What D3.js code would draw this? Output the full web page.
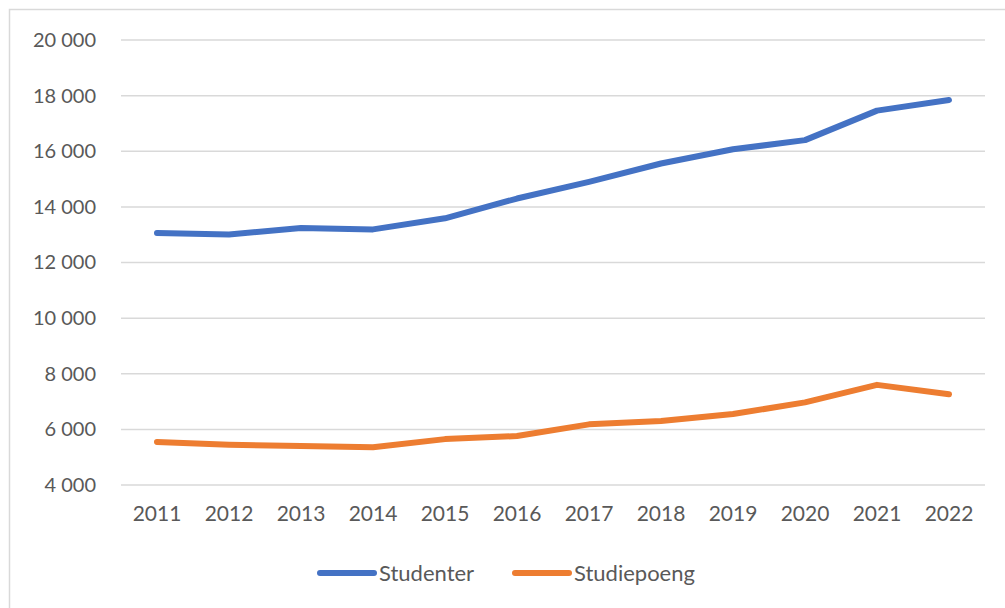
<!DOCTYPE html>
<html>
<head>
<meta charset="utf-8">
<script src="https://cdn.jsdelivr.net/npm/d3@7"></script>
<style>
  body { margin: 0; background: #fff; }
  text { font-family: Lato, "Open Sans", sans-serif; fill: #595959; }
</style>
</head>
<body>
<div id="chart"></div>
<script>
// data
const years = ['2011', '2012', '2013', '2014', '2015', '2016', '2017', '2018', '2019', '2020', '2021', '2022'];
const studenter = [13060, 13010, 13240, 13190, 13590, 14300, 14900, 15560, 16070, 16400, 17460, 17840];
const studiepoeng = [5550, 5450, 5400, 5360, 5650, 5760, 6180, 6300, 6550, 6970, 7600, 7260];
const yTicks = [4000, 6000, 8000, 10000, 12000, 14000, 16000, 18000, 20000];
const seriesNames = ['Studenter', 'Studiepoeng'];

const colors = ['#4472C4', '#ED7D31'];
const width = 1005;
const height = 608;
const margin = { top: 40, right: 20, bottom: 123, left: 121 };

const svg = d3.select('#chart')
  .append('svg')
  .attr('width', width)
  .attr('height', height);

// outer chart border
svg.append('rect')
  .attr('x', 9.5)
  .attr('y', 9.5)
  .attr('width', width + 20)
  .attr('height', height + 20)
  .attr('fill', 'none')
  .attr('stroke', '#d9d9d9')
  .attr('stroke-width', 1.5);

const x = d3.scaleBand()
  .domain(years)
  .range([margin.left, 985]);

const y = d3.scaleLinear()
  .domain([4000, 20000])
  .range([485, margin.top]);

const nb = d3.formatLocale({ decimal: ',', thousands: ' ', grouping: [3], currency: ['', ''] });
const fmt = nb.format(',d');

// gridlines + y labels
const yAxis = svg.append('g')
  .call(d3.axisLeft(y).tickValues(yTicks).tickSize(0).tickPadding(25).tickFormat(fmt))
  .attr('transform', `translate(${margin.left},0)`);
yAxis.select('.domain').remove();
yAxis.selectAll('text').style('font-size', '20px').style('white-space', 'pre').attr('fill', '#595959');

svg.append('g')
  .selectAll('line')
  .data(yTicks)
  .join('line')
  .attr('x1', margin.left)
  .attr('x2', 985)
  .attr('y1', d => y(d))
  .attr('y2', d => y(d))
  .attr('stroke', '#d9d9d9')
  .attr('stroke-width', 1.5);

// x labels
const xAxis = svg.append('g')
  .attr('transform', 'translate(0,485)')
  .call(d3.axisBottom(x).tickSize(0).tickPadding(21));
xAxis.select('.domain').remove();
xAxis.selectAll('text').style('font-size', '21px').attr('fill', '#595959');

// lines
const line = d3.line()
  .x((d, i) => x(years[i]) + x.bandwidth() / 2)
  .y(d => y(d));

[studenter, studiepoeng].forEach((vals, i) => {
  svg.append('path')
    .datum(vals)
    .attr('d', line)
    .attr('fill', 'none')
    .attr('stroke', colors[i])
    .attr('stroke-width', 6)
    .attr('stroke-linecap', 'round')
    .attr('stroke-linejoin', 'round');
});

// legend
const legendX = [320, 515];
const legend = svg.append('g')
  .selectAll('g')
  .data(seriesNames)
  .join('g')
  .attr('transform', (d, i) => `translate(${legendX[i]},573)`);

legend.append('line')
  .attr('x1', 0)
  .attr('x2', 54)
  .attr('stroke', (d, i) => colors[i])
  .attr('stroke-width', 6)
  .attr('stroke-linecap', 'round');

legend.append('text')
  .attr('x', 59)
  .attr('dy', '0.35em')
  .style('font-size', '22px')
  .text(d => d);
</script>
</body>
</html>
